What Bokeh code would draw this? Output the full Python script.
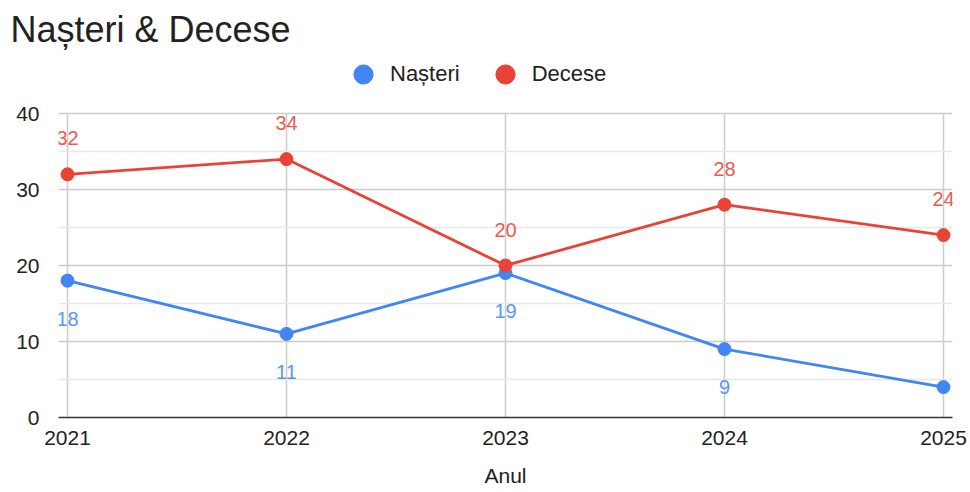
from bokeh.plotting import figure
from bokeh.models import (ColumnDataSource, Legend, LegendItem, FixedTicker, Range1d)
from bokeh.core.properties import value
from bokeh.embed import file_html
from bokeh.resources import INLINE

# ---- data ----
years = [2021, 2022, 2023, 2024, 2025]
nasteri = [18, 11, 19, 9, 4]
decese = [32, 34, 20, 28, 24]
# data labels shown in the reference (the last Nașteri label is not drawn there)
nasteri_label_shown = [True, True, True, True, False]
decese_label_shown = [True, True, True, True, True]
series_names = ["Nașteri", "Decese"]
y_ticks = [0, 10, 20, 30, 40]
y_minor = [5, 15, 25, 35]
title_text = "Nașteri & Decese"
x_title = "Anul"

BLUE = "#4285F4"
RED = "#EA4335"
BLUE_LBL = "#5B96F5"
RED_LBL = "#EE5A4E"
FONT = "Liberation Sans"
GRID = "#cccccc"
GRID_MINOR = "#e8e8e8"

# layout (pixels)
W, H = 968, 490
FRAME_L, FRAME_R, FRAME_T, FRAME_B = 58, 952, 50, 417
PX_PER_YEAR = 219.0
PX_PER_UNIT = 304 / 40.0
pad = 9 / PX_PER_YEAR
y_top = (FRAME_B - FRAME_T) / PX_PER_UNIT   # extra room above 40 holds the legend

p = figure(width=W, height=H, output_backend="svg", toolbar_location=None,
           x_range=Range1d(years[0] - pad, years[-1] + pad),
           y_range=Range1d(0, y_top),
           min_border_left=FRAME_L, min_border_right=W - FRAME_R,
           min_border_top=FRAME_T, min_border_bottom=H - FRAME_B)
p.outline_line_color = None
p.background_fill_color = "white"
p.border_fill_color = "white"

# title
p.title.text = title_text
p.title.text_font = FONT
p.title.text_font_size = "36px"
p.title.text_font_style = "normal"
p.title.text_color = "#222222"
p.title.align = "left"
p.title.offset = -48
p.title.standoff = 1

# axes
p.xaxis.ticker = FixedTicker(ticks=years)
p.xaxis.axis_line_color = "#333333"
p.xaxis.axis_line_width = 1.5
p.xaxis.major_tick_line_color = None
p.xaxis.minor_tick_line_color = None
p.xaxis.major_label_text_font = FONT
p.xaxis.major_label_text_font_size = "21px"
p.xaxis.major_label_text_color = "#222222"
p.xaxis.major_label_standoff = 7
p.xaxis.axis_label = x_title
p.xaxis.axis_label_text_font = FONT
p.xaxis.axis_label_text_font_size = "21px"
p.xaxis.axis_label_text_font_style = "normal"
p.xaxis.axis_label_text_color = "#222222"
p.xaxis.axis_label_standoff = 16

p.yaxis.ticker = FixedTicker(ticks=y_ticks)
p.yaxis.axis_line_color = None
p.yaxis.major_tick_line_color = None
p.yaxis.minor_tick_line_color = None
p.yaxis.major_label_text_font = FONT
p.yaxis.major_label_text_font_size = "21px"
p.yaxis.major_label_text_color = "#222222"
p.yaxis.major_label_standoff = 13

p.xgrid.grid_line_color = None
p.ygrid.ticker = FixedTicker(ticks=y_ticks, minor_ticks=y_minor)
p.ygrid.grid_line_color = GRID
p.ygrid.grid_line_width = 1.5
p.ygrid.minor_grid_line_color = GRID_MINOR
p.ygrid.minor_grid_line_width = 1.5

# vertical grid lines limited to the value axis span (0..40)
p.segment(x0=years, y0=[y_ticks[0]] * len(years), x1=years, y1=[y_ticks[-1]] * len(years),
          line_color=GRID, line_width=1.5, level="underlay")

# series
src_n = ColumnDataSource(dict(x=years, y=nasteri))
src_d = ColumnDataSource(dict(x=years, y=decese))
p.line("x", "y", source=src_n, line_color=BLUE, line_width=2.8)
sn = p.scatter("x", "y", source=src_n, size=13, fill_color=BLUE, line_color=BLUE)
p.line("x", "y", source=src_d, line_color=RED, line_width=2.8)
sd = p.scatter("x", "y", source=src_d, size=13, fill_color=RED, line_color=RED)

# data labels
ln_src = ColumnDataSource(dict(
    x=[x for x, s in zip(years, nasteri_label_shown) if s],
    y=[v for v, s in zip(nasteri, nasteri_label_shown) if s],
    t=[str(v) for v, s in zip(nasteri, nasteri_label_shown) if s]))
ld_src = ColumnDataSource(dict(
    x=[x for x, s in zip(years, decese_label_shown) if s],
    y=[v for v, s in zip(decese, decese_label_shown) if s],
    t=[str(v) for v, s in zip(decese, decese_label_shown) if s]))
p.text("x", "y", text="t", source=ln_src, text_font=value(FONT), text_font_size="20px",
       text_color=BLUE_LBL, text_align="center", text_baseline="middle", y_offset=38)
p.text("x", "y", text="t", source=ld_src, text_font=value(FONT), text_font_size="20px",
       text_color=RED_LBL, text_align="center", text_baseline="middle", y_offset=-36)

legend = Legend(items=[LegendItem(label=series_names[0], renderers=[sn]),
                       LegendItem(label=series_names[1], renderers=[sd])],
                orientation="horizontal", location=(281, FRAME_B - 74 - 24),
                glyph_width=48, glyph_height=48, label_standoff=3, spacing=21,
                padding=0, margin=0, border_line_color=None,
                background_fill_alpha=0,
                label_text_font=FONT, label_text_font_size="22px",
                label_text_color="#222222")
p.add_layout(legend)

open("out.html", "w").write(file_html(p, INLINE))
